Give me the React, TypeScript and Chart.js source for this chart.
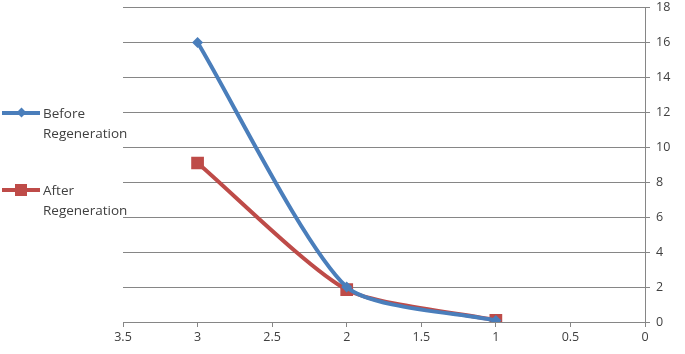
import React, { useEffect, useRef } from "react";
import { Chart, registerables } from "chart.js";

Chart.register(...registerables);

const xValues = [3, 2, 1];
const beforeValues = [16, 2.0, 0.08];
const afterValues = [9.1, 1.85, 0.1];
const seriesNames = ["Before\nRegeneration", "After\nRegeneration"];
const xTicks = [3.5, 3, 2.5, 2, 1.5, 1, 0.5, 0];
const yTicks = [0, 2, 4, 6, 8, 10, 12, 14, 16, 18];

const BLUE = "#4A7EBB";
const RED = "#BE4B48";
const FONT = "'Open Sans', 'Noto Sans', sans-serif";

export default function App() {
  const ref = useRef<HTMLCanvasElement | null>(null);

  useEffect(() => {
    document.body.style.margin = "0";
    if (!ref.current) return;
    const chart = new Chart(ref.current, {
      type: "scatter",
      data: {
        datasets: [
          {
            label: seriesNames[0],
            data: xValues.map((x, i) => ({ x, y: beforeValues[i] })),
            showLine: true,
            borderColor: BLUE,
            backgroundColor: BLUE,
            borderWidth: 4,
            tension: 0.22,
            pointStyle: "rectRot",
            pointRadius: 5.5,
            pointBorderWidth: 0,
          },
          {
            label: seriesNames[1],
            data: xValues.map((x, i) => ({ x, y: afterValues[i] })),
            showLine: true,
            borderColor: RED,
            backgroundColor: RED,
            borderWidth: 4,
            tension: 0.22,
            pointStyle: "rect",
            pointRadius: 9,
            pointBorderWidth: 0,
          },
        ],
      },
      options: {
        animation: false,
        responsive: false,
        layout: { padding: { left: 123, top: 1, right: 0, bottom: 0 } },
        plugins: { legend: { display: false }, tooltip: { enabled: false } },
        scales: {
          x: {
            type: "linear",
            reverse: true,
            min: 0,
            max: 3.5,
            afterBuildTicks: (axis: any) => {
              axis.ticks = xTicks.map((v) => ({ value: v }));
            },
            afterFit: (axis: any) => {
              axis.height = 32;
            },
            grid: {
              drawOnChartArea: false,
              drawTicks: true,
              tickLength: 5,
              color: "#868686",
            },
            border: { display: true, color: "#868686", width: 1 },
            ticks: {
              color: "#404040",
              font: { family: FONT, size: 12.5 },
              padding: 3,
              maxRotation: 0,
              autoSkip: false,
              callback: (v: any) => String(v),
            },
          },
          y: {
            type: "linear",
            position: "right",
            min: 0,
            max: 18,
            afterBuildTicks: (axis: any) => {
              axis.ticks = yTicks.map((v) => ({ value: v }));
            },
            afterFit: (axis: any) => {
              axis.width = 40;
            },
            grid: {
              drawTicks: true,
              tickLength: 5,
              color: "#868686",
            },
            border: { display: true, color: "#868686", width: 1 },
            ticks: {
              color: "#404040",
              font: { family: FONT, size: 12.5 },
              padding: 6,
              callback: (v: any) => String(v),
            },
          },
        },
      },
    });
    return () => chart.destroy();
  }, []);

  const legendItem = (
    name: string,
    color: string,
    marker: "diamond" | "square",
    top: number
  ) => {
    const lines = name.split("\n");
    return (
      <div style={{ position: "absolute", left: 0, top, width: 140, height: 40 }}>
        <div
          style={{
            position: "absolute",
            left: 2,
            top: 8,
            width: 38,
            height: 4,
            background: color,
          }}
        />
        {marker === "diamond" ? (
          <div
            style={{
              position: "absolute",
              left: 18,
              top: 6,
              width: 7,
              height: 7,
              background: color,
              transform: "rotate(45deg)",
            }}
          />
        ) : (
          <div
            style={{
              position: "absolute",
              left: 15,
              top: 4,
              width: 12,
              height: 12,
              background: color,
            }}
          />
        )}
        <div
          style={{
            position: "absolute",
            left: 43,
            top: 0,
            fontFamily: FONT,
            fontSize: 13.5,
            lineHeight: "20px",
            color: "#404040",
            whiteSpace: "nowrap",
          }}
        >
          {lines.map((l, i) => (
            <div key={i}>{l}</div>
          ))}
        </div>
      </div>
    );
  };

  return (
    <div
      style={{
        position: "relative",
        width: 685,
        height: 354,
        background: "#fff",
        overflow: "hidden",
      }}
    >
      <canvas
        ref={ref}
        width={685}
        height={360}
        style={{ display: "block", position: "absolute", left: 0, top: -6 }}
      />
      {legendItem(seriesNames[0], BLUE, "diamond", 103)}
      {legendItem(seriesNames[1], RED, "square", 180)}
    </div>
  );
}
